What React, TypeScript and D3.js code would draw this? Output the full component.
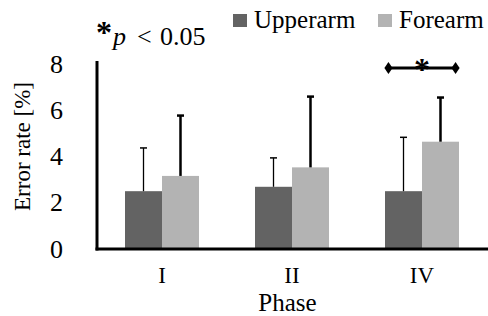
import * as d3 from "d3";

// Error rate per phase
const phases = ["I", "II", "IV"];
const seriesNames = ["Upperarm", "Forearm"];
const upperarmMean = [2.5, 2.69, 2.5];
const upperarmSd = [1.87, 1.25, 2.33];
const forearmMean = [3.16, 3.53, 4.64];
const forearmSd = [2.61, 3.06, 1.91];
const yTicks = [0, 2, 4, 6, 8];
const significantPhases = ["IV"];

const colors: Record<string, string> = {
  Upperarm: "#636363",
  Forearm: "#b3b3b3",
};

const FONT = "'Liberation Serif', 'Times New Roman', serif";

export default function App() {
  const width = 488;
  const height = 316;
  const margin = { top: 64, right: 1, bottom: 67, left: 97 };
  const y0 = height - margin.bottom;

  const x0 = d3
    .scaleBand<string>()
    .domain(phases)
    .range([margin.left, width - margin.right]);

  const x1 = d3
    .scaleBand<string>()
    .domain(seriesNames)
    .range([0, x0.bandwidth()])
    .paddingOuter(0.757);

  const y = d3.scaleLinear().domain([0, 8]).range([y0, margin.top]);

  const rows = phases.map((p, i) => ({
    phase: p,
    values: [
      { name: "Upperarm", mean: upperarmMean[i], sd: upperarmSd[i] },
      { name: "Forearm", mean: forearmMean[i], sd: forearmSd[i] },
    ],
  }));

  const diamond = d3.symbol().type(d3.symbolDiamond).size(40)();

  return (
    <div style={{ position: "fixed", left: 0, top: 0 }}>
      <svg width={width} height={height} style={{ display: "block", background: "#fff" }} fontFamily={FONT}>
        {/* bars + error bars */}
        {rows.map((r) => (
          <g key={r.phase} transform={`translate(${x0(r.phase)},0)`}>
            {r.values.map((v) => {
              const bx = x1(v.name) ?? 0;
              const cx = bx + x1.bandwidth() / 2;
              const thick = v.name === "Forearm";
              return (
                <g key={v.name}>
                  <rect
                    x={bx}
                    y={y(v.mean)}
                    width={x1.bandwidth()}
                    height={y0 - y(v.mean)}
                    fill={colors[v.name]}
                  />
                  <line
                    x1={cx}
                    x2={cx}
                    y1={y(v.mean)}
                    y2={y(v.mean + v.sd)}
                    stroke="#000"
                    strokeWidth={thick ? 2.5 : 1.3}
                  />
                  <line
                    x1={cx - 3.5}
                    x2={cx + 3.5}
                    y1={y(v.mean + v.sd)}
                    y2={y(v.mean + v.sd)}
                    stroke="#000"
                    strokeWidth={thick ? 2.5 : 1.5}
                  />
                </g>
              );
            })}
            <text
              x={x0.bandwidth() / 2}
              y={y0 + 34}
              textAnchor="middle"
              fontSize={23}
            >
              {r.phase}
            </text>
          </g>
        ))}

        {/* axes */}
        <line x1={margin.left} x2={margin.left} y1={margin.top - 3} y2={y0 + 1.5} stroke="#000" strokeWidth={3} />
        <line x1={margin.left - 1.5} x2={width} y1={y0} y2={y0} stroke="#000" strokeWidth={3} />

        {yTicks.map((t) => (
          <text key={t} x={63} y={y(t)} textAnchor="end" dominantBaseline="central" fontSize={26}>
            {t}
          </text>
        ))}

        <text
          transform={`translate(30,${(margin.top + y0) / 2 - 10}) rotate(-90)`}
          textAnchor="middle"
          fontSize={23}
        >
          Error rate [%]
        </text>
        <text x={(margin.left + width) / 2 - 5} y={311} textAnchor="middle" fontSize={25}>
          Phase
        </text>

        {/* legend */}
        {seriesNames.map((n, i) => {
          const lx = i === 0 ? 233 : 378;
          return (
            <g key={n}>
              <rect x={lx} y={14} width={14} height={13} fill={colors[n]} />
              <text x={lx + 21} y={28} fontSize={25}>
                {n}
              </text>
            </g>
          );
        })}

        {/* significance note */}
        <g fontSize={26}>
          <text x={96} y={43} fontSize={32} fontWeight="bold">*</text>
          <text x={113} y={45} fontStyle="italic">p</text>
          <text x={137} y={45}>{"<"}</text>
          <text x={160} y={45}>{"0.05"}</text>
        </g>

        {/* significance bracket */}
        {significantPhases.map((p) => {
          const left = (x0(p) ?? 0) + x1.bandwidth() * 0.85;
          const right = (x0(p) ?? 0) + x0.bandwidth() - x1.bandwidth() * 0.85;
          const by = 68;
          return (
            <g key={p}>
              <line x1={left} x2={right} y1={by} y2={by} stroke="#000" strokeWidth={3} />
              <path d={diamond ?? ""} transform={`translate(${left},${by}) scale(1.2,1)`} fill="#000" />
              <path d={diamond ?? ""} transform={`translate(${right},${by}) scale(1.2,1)`} fill="#000" />
              <text x={(left + right) / 2} y={by + 12} textAnchor="middle" fontSize={32} fontWeight="bold">
                *
              </text>
            </g>
          );
        })}
      </svg>
    </div>
  );
}
